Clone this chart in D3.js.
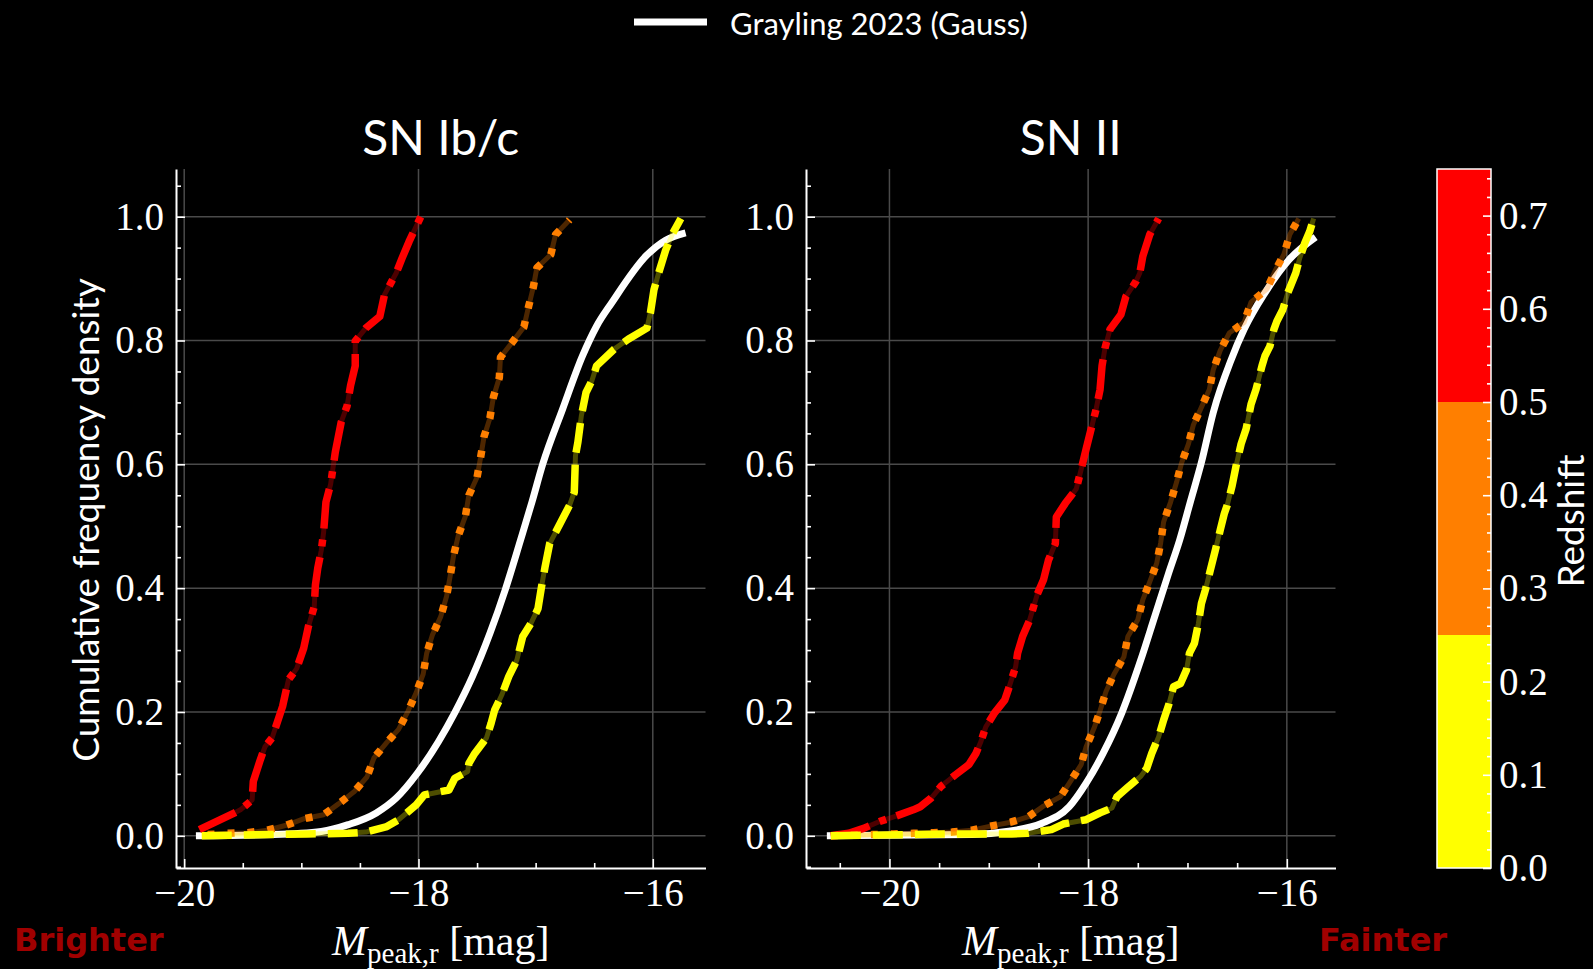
<!DOCTYPE html>
<html>
<head>
<meta charset="utf-8">
<script src="https://d3js.org/d3.v7.min.js"></script>
<style>
  body { margin: 0; background: #000; }
  svg { display: block; }
</style>
</head>
<body>
<svg id="chart" width="1593" height="969"></svg>
<script>
// ---- data ----
const panelTitles = ["SN Ib/c", "SN II"];
const xTicks = [-20, -18, -16];
const yTicks = [0, 0.2, 0.4, 0.6, 0.8, 1.0];
const cbTicks = [0, 0.1, 0.2, 0.3, 0.4, 0.5, 0.6, 0.7];
const zBins = [[0, 0.25], [0.25, 0.5], [0.5, 0.75]];
const zColors = ["#ffff00", "#ff7f00", "#ff0000"];
const legendLabel = "Grayling 2023 (Gauss)";

// SN Ib/c, [M_peak, cumulative fraction]
const ibcGauss = [[-19.90,0],[-19.24,0.002],[-18.83,0.007],[-18.60,0.018],[-18.36,0.037],[-18.19,0.061],[-18.01,0.101],
  [-17.83,0.152],[-17.69,0.199],[-17.54,0.257],[-17.39,0.327],[-17.26,0.397],[-17.13,0.477],[-17.03,0.54],[-16.94,0.60],
  [-16.77,0.689],[-16.60,0.775],[-16.48,0.823],[-16.35,0.861],[-16.05,0.938],[-15.89,0.962],[-15.72,0.974]];
const ibcHighZ = [[-19.87,0.01],[-19.57,0.037],[-19.52,0.042],[-19.42,0.058],[-19.41,0.088],[-19.35,0.123],[-19.31,0.144],
  [-19.25,0.158],[-19.16,0.209],[-19.11,0.252],[-19.04,0.27],[-18.98,0.303],[-18.94,0.338],[-18.89,0.37],[-18.88,0.405],
  [-18.86,0.432],[-18.83,0.461],[-18.81,0.49],[-18.79,0.539],[-18.75,0.568],[-18.71,0.62],[-18.66,0.668],[-18.61,0.694],
  [-18.58,0.727],[-18.54,0.759],[-18.54,0.799],[-18.45,0.82],[-18.33,0.839],[-18.29,0.874],[-18.19,0.909],[-18.14,0.933],
  [-18.08,0.96],[-17.98,1.0]];
const ibcMidZ = [[-19.80,0.002],[-19.63,0.004],[-19.46,0.005],[-19.29,0.009],[-19.13,0.017],[-18.97,0.028],[-18.81,0.034],
  [-18.68,0.052],[-18.55,0.071],[-18.44,0.095],[-18.38,0.126],[-18.27,0.151],[-18.17,0.172],[-18.09,0.201],[-18.02,0.231],
  [-17.96,0.261],[-17.93,0.295],[-17.88,0.325],[-17.81,0.354],[-17.76,0.387],[-17.73,0.419],[-17.70,0.453],[-17.66,0.485],
  [-17.60,0.516],[-17.57,0.55],[-17.50,0.579],[-17.47,0.611],[-17.44,0.645],[-17.39,0.675],[-17.36,0.709],[-17.31,0.74],
  [-17.30,0.773],[-17.20,0.797],[-17.10,0.822],[-17.06,0.855],[-17.02,0.886],[-16.99,0.917],[-16.87,0.939],[-16.83,0.971],
  [-16.71,0.995]];
const ibcLowZ = [[-19.85,0],[-19.26,0.002],[-18.95,0.003],[-18.60,0.004],[-18.45,0.006],[-18.27,0.015],[-18.17,0.026],
  [-18.10,0.037],[-18.02,0.05],[-17.95,0.066],[-17.74,0.074],[-17.69,0.093],[-17.58,0.104],[-17.57,0.117],[-17.52,0.133],
  [-17.42,0.158],[-17.38,0.182],[-17.35,0.203],[-17.29,0.227],[-17.23,0.257],[-17.16,0.284],[-17.11,0.322],[-17.04,0.343],
  [-16.98,0.367],[-16.95,0.402],[-16.92,0.434],[-16.88,0.472],[-16.77,0.512],[-16.71,0.534],[-16.67,0.555],[-16.66,0.614],
  [-16.64,0.635],[-16.61,0.678],[-16.57,0.716],[-16.52,0.735],[-16.48,0.759],[-16.33,0.786],[-16.21,0.802],[-16.05,0.82],
  [-16.02,0.845],[-15.99,0.882],[-15.95,0.909],[-15.89,0.946],[-15.83,0.973],[-15.76,0.997]];

// SN II
const iiGauss = [[-20.63,0],[-19.17,0.002],[-18.82,0.007],[-18.47,0.02],[-18.19,0.047],[-18.02,0.085],[-17.85,0.133],
  [-17.66,0.199],[-17.47,0.284],[-17.33,0.354],[-17.19,0.424],[-17.08,0.477],[-16.97,0.54],[-16.86,0.603],[-16.74,0.684],
  [-16.56,0.769],[-16.43,0.818],[-16.22,0.877],[-15.98,0.93],[-15.71,0.967]];
const iiHighZ = [[-20.59,0],[-20.41,0.004],[-20.26,0.012],[-20.10,0.023],[-19.95,0.031],[-19.76,0.042],[-19.69,0.047],
  [-19.58,0.061],[-19.48,0.08],[-19.34,0.098],[-19.20,0.115],[-19.13,0.133],[-19.08,0.152],[-19.03,0.176],[-18.94,0.199],
  [-18.84,0.219],[-18.80,0.238],[-18.73,0.273],[-18.71,0.295],[-18.66,0.322],[-18.59,0.348],[-18.54,0.375],[-18.51,0.391],
  [-18.45,0.413],[-18.40,0.445],[-18.33,0.472],[-18.32,0.515],[-18.23,0.537],[-18.12,0.56],[-18.07,0.592],[-18.02,0.625],
  [-17.97,0.657],[-17.92,0.689],[-17.88,0.721],[-17.86,0.759],[-17.83,0.788],[-17.78,0.818],[-17.67,0.842],[-17.62,0.871],
  [-17.52,0.895],[-17.48,0.909],[-17.45,0.936],[-17.38,0.971],[-17.29,0.997]];
const iiMidZ = [[-20.59,0],[-20.36,0.001],[-20.17,0.002],[-19.96,0.003],[-19.76,0.004],[-19.56,0.005],[-19.37,0.006],
  [-19.17,0.009],[-18.97,0.016],[-18.78,0.022],[-18.60,0.031],[-18.45,0.048],[-18.28,0.063],[-18.17,0.09],[-18.07,0.115],
  [-18.02,0.144],[-17.94,0.174],[-17.88,0.202],[-17.82,0.233],[-17.74,0.261],[-17.64,0.289],[-17.60,0.322],[-17.50,0.349],
  [-17.45,0.381],[-17.38,0.41],[-17.31,0.44],[-17.27,0.473],[-17.24,0.507],[-17.17,0.539],[-17.11,0.571],[-17.06,0.602],
  [-16.99,0.633],[-16.94,0.664],[-16.86,0.692],[-16.78,0.721],[-16.74,0.753],[-16.67,0.784],[-16.58,0.812],[-16.43,0.829],
  [-16.36,0.862],[-16.20,0.883],[-16.12,0.912],[-16.03,0.939],[-15.97,0.971],[-15.88,0.997]];
const iiLowZ = [[-20.59,0],[-19.82,0.002],[-19.41,0.003],[-19.01,0.003],[-18.77,0.003],[-18.61,0.004],[-18.37,0.01],
  [-18.25,0.019],[-18.02,0.026],[-17.88,0.037],[-17.76,0.045],[-17.71,0.063],[-17.59,0.08],[-17.47,0.096],[-17.41,0.109],
  [-17.36,0.133],[-17.29,0.16],[-17.24,0.187],[-17.19,0.211],[-17.14,0.241],[-17.07,0.246],[-17.01,0.268],[-16.98,0.295],
  [-16.93,0.311],[-16.89,0.343],[-16.86,0.375],[-16.82,0.397],[-16.77,0.429],[-16.72,0.461],[-16.67,0.494],[-16.63,0.52],
  [-16.60,0.534],[-16.55,0.566],[-16.51,0.598],[-16.46,0.633],[-16.41,0.657],[-16.36,0.697],[-16.31,0.721],[-16.25,0.759],
  [-16.22,0.775],[-16.17,0.791],[-16.13,0.818],[-16.10,0.831],[-16.04,0.85],[-15.99,0.877],[-15.91,0.909],[-15.87,0.933],
  [-15.82,0.957],[-15.77,0.976],[-15.73,0.997]];

// ---- drawing ----
const svg = d3.select('#chart');
svg.append('rect').attr('width', 1593).attr('height', 969).attr('fill', '#000');

const serif = "'Liberation Serif', 'DejaVu Serif', serif";
const sans = "Lato, 'Open Sans', sans-serif";

const y = d3.scaleLinear().domain([-0.052, 1.077]).range([868, 169]);

// dash styles for low / mid / high redshift bins
const dashes = ["30,12", "7,13", "40,11,7,11"];

const panels = [
  { title: panelTitles[0], range: [176, 705.5], domain: [-20.07, -15.55], gauss: ibcGauss, bins: [ibcLowZ, ibcMidZ, ibcHighZ], ylab: true },
  { title: panelTitles[1], range: [806, 1335.5], domain: [-20.84, -15.51], gauss: iiGauss, bins: [iiLowZ, iiMidZ, iiHighZ], ylab: false }
];

panels.forEach(p => {
  const x = d3.scaleLinear().domain(p.domain).range(p.range);
  const g = svg.append('g');

  // grid
  g.selectAll('.gx').data(xTicks).join('line')
    .attr('x1', d => x(d)).attr('x2', d => x(d)).attr('y1', 169).attr('y2', 868)
    .attr('stroke', '#4a4a4a').attr('stroke-width', 1.5);
  g.selectAll('.gy').data(yTicks).join('line')
    .attr('x1', p.range[0]).attr('x2', p.range[1]).attr('y1', d => y(d)).attr('y2', d => y(d))
    .attr('stroke', '#4a4a4a').attr('stroke-width', 1.5);

  const line = d3.line().x(d => x(d[0])).y(d => y(d[1]));

  // white gaussian reference
  g.append('path').attr('d', d3.line().x(d => x(d[0])).y(d => y(d[1])).curve(d3.curveMonotoneX)(p.gauss))
    .attr('fill', 'none').attr('stroke', '#fff').attr('stroke-width', 7).attr('stroke-linejoin', 'round');

  // redshift bins, drawn high -> low
  [2, 1, 0].forEach(i => {
    const pts = p.bins[i];
    g.append('path').attr('d', line(pts))
      .attr('fill', 'none').attr('stroke', zColors[i]).attr('stroke-opacity', 0.3)
      .attr('stroke-width', 5).attr('stroke-linejoin', 'round');
    g.append('path').attr('d', line(pts))
      .attr('fill', 'none').attr('stroke', zColors[i]).attr('stroke-width', 7.5)
      .attr('stroke-dasharray', dashes[i]).attr('stroke-linejoin', 'round');
  });

  // axes
  const minorX = d3.range(-21, -15, 0.5).filter(v => v >= p.domain[0] && v <= p.domain[1] && !xTicks.includes(v));
  const minorY = d3.range(-0.05, 1.076, 0.05).filter(v => Math.abs(v * 5 - Math.round(v * 5)) > 1e-6);

  g.append('g').attr('transform', 'translate(0,868)')
    .call(d3.axisBottom(x).tickValues(xTicks).tickSize(-9).tickSizeOuter(0).tickPadding(10).tickFormat(d3.format('d')));
  g.append('g').attr('transform', 'translate(0,868)')
    .call(d3.axisBottom(x).tickValues(minorX).tickSize(-5).tickSizeOuter(0).tickFormat(''))
    .select('.domain').remove();
  g.append('g').attr('transform', `translate(${p.range[0]},0)`)
    .call(d3.axisLeft(y).tickValues(yTicks).tickSize(-9).tickSizeOuter(0).tickPadding(12).tickFormat(d3.format('.1f')));
  g.append('g').attr('transform', `translate(${p.range[0]},0)`)
    .call(d3.axisLeft(y).tickValues(minorY).tickSize(-5).tickSizeOuter(0).tickFormat(''))
    .select('.domain').remove();

  g.selectAll('.domain').attr('stroke', '#fff').attr('stroke-width', 2);
  g.selectAll('.tick line').attr('stroke', '#fff').attr('stroke-width', 1.6);
  g.selectAll('.tick text').attr('fill', '#fff').style('font-family', serif).style('font-size', '39px');

  // title
  g.append('text').attr('x', (p.range[0] + p.range[1]) / 2).attr('y', 155)
    .attr('text-anchor', 'middle').attr('fill', '#fff')
    .style('font-family', sans).style('font-size', '48px').text(p.title);

  // x label
  const xl = g.append('text').attr('x', (p.range[0] + p.range[1]) / 2).attr('y', 955)
    .attr('text-anchor', 'middle').attr('fill', '#fff').style('font-family', serif).style('font-size', '42px');
  xl.append('tspan').style('font-style', 'italic').text('M');
  xl.append('tspan').attr('dy', 8).style('font-size', '29px').text('peak,r');
  xl.append('tspan').attr('dy', -8).text('\u00a0[mag]');

  if (p.ylab) {
    g.append('text').attr('transform', 'translate(99,520) rotate(-90)')
      .attr('text-anchor', 'middle').attr('fill', '#fff')
      .style('font-family', sans).style('font-size', '37px').text('Cumulative frequency density');
  }
});

// colorbar
const cb = d3.scaleLinear().domain([0, 0.75]).range([868, 169]);
const cbg = svg.append('g');
cbg.selectAll('rect').data(zBins).join('rect')
  .attr('x', 1437).attr('width', 54)
  .attr('y', d => cb(d[1])).attr('height', d => cb(d[0]) - cb(d[1]))
  .attr('fill', (d, i) => zColors[i]);
cbg.append('rect').attr('x', 1437).attr('width', 54).attr('y', cb(0.75)).attr('height', cb(0) - cb(0.75))
  .attr('fill', 'none').attr('stroke', '#fff').attr('stroke-width', 1.5);
const cbMinor = d3.range(0, 0.751, 0.02).filter(v => Math.abs(v * 10 - Math.round(v * 10)) > 1e-6);
cbg.append('g').attr('transform', 'translate(1491,0)')
  .call(d3.axisRight(cb).tickValues(cbTicks).tickSize(-8).tickSizeOuter(0).tickPadding(8).tickFormat(d3.format('.1f')))
  .select('.domain').remove();
cbg.append('g').attr('transform', 'translate(1491,0)')
  .call(d3.axisRight(cb).tickValues(cbMinor).tickSize(-4).tickSizeOuter(0).tickFormat(''))
  .select('.domain').remove();
cbg.selectAll('.tick line').attr('stroke', '#fff').attr('stroke-width', 1.6);
cbg.selectAll('.tick text').attr('fill', '#fff').style('font-family', serif).style('font-size', '39px');
cbg.append('text').attr('transform', 'translate(1584,521) rotate(-90)')
  .attr('text-anchor', 'middle').attr('fill', '#fff')
  .style('font-family', sans).style('font-size', '37px').text('Redshift');

// legend
svg.append('line').attr('x1', 634).attr('x2', 707).attr('y1', 22).attr('y2', 22)
  .attr('stroke', '#fff').attr('stroke-width', 7);
svg.append('text').attr('x', 730).attr('y', 35).attr('fill', '#fff')
  .style('font-family', sans).style('font-size', '31px').text(legendLabel);

// brighter / fainter
svg.append('text').attr('x', 14).attr('y', 951).attr('fill', '#a00000')
  .style('font-family', "'DejaVu Sans', sans-serif").style('font-weight', 'bold').style('font-size', '32px').text('Brighter');
svg.append('text').attr('x', 1319).attr('y', 951).attr('fill', '#a00000')
  .style('font-family', "'DejaVu Sans', sans-serif").style('font-weight', 'bold').style('font-size', '32px').text('Fainter');
</script>
</body>
</html>
